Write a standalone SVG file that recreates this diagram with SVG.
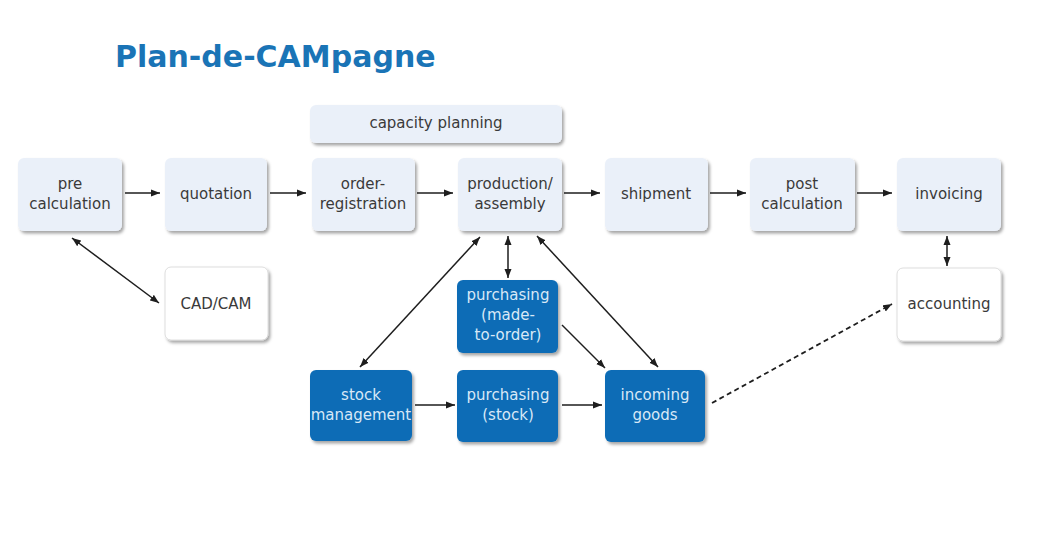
<svg xmlns="http://www.w3.org/2000/svg" width="1045" height="539" viewBox="0 0 1045 539">
<defs>
<filter id="sh" x="-10%" y="-10%" width="130%" height="130%">
<feDropShadow dx="2" dy="2.5" stdDeviation="1.6" flood-color="#000" flood-opacity="0.35"/>
</filter>
<marker id="ah" markerUnits="userSpaceOnUse" markerWidth="10" markerHeight="8" refX="9" refY="4" orient="auto-start-reverse">
<path d="M0,0.5 L9,4 L0,7.5 z" fill="#1e1e1e"/>
</marker>
</defs>
<style>
.light rect{fill:#eaf0f9;filter:url(#sh)}
.white rect{fill:#ffffff;stroke:#d6d6d6;stroke-width:0.8;filter:url(#sh)}
.dark rect{fill:#0b6cb6;filter:url(#sh)}
text{font-family:"DejaVu Sans","Verdana",sans-serif;font-size:15px;text-anchor:middle}
.light text,.white text{fill:#3a3a3a}
.dark text{fill:#d8e8f7}
.title{font-family:"DejaVu Sans",sans-serif;font-size:30px;font-weight:bold;fill:#1a74b6;text-anchor:start}
#connectors line{stroke:#1e1e1e;stroke-width:1.5;fill:none}
#connectors .one{marker-end:url(#ah)}
#connectors .two{marker-start:url(#ah);marker-end:url(#ah)}
#connectors .dash{stroke-dasharray:5,3.5;stroke-width:1.8}
</style>
<rect width="1045" height="539" fill="#ffffff"/>
<text class="title" x="115" y="67">Plan-de-CAMpagne</text>

<g id="connectors">
<line class="one" x1="125" y1="193" x2="160" y2="193"/>
<line class="one" x1="270" y1="193" x2="306" y2="193"/>
<line class="one" x1="417" y1="193" x2="453" y2="193"/>
<line class="one" x1="564" y1="193" x2="600" y2="193"/>
<line class="one" x1="710" y1="193" x2="746" y2="193"/>
<line class="one" x1="857" y1="193" x2="892" y2="193"/>
<line class="two" x1="947" y1="236" x2="947" y2="266"/>
<line class="two" x1="72" y1="238" x2="159" y2="303"/>
<line class="two" x1="480" y1="237" x2="360" y2="367"/>
<line class="two" x1="508" y1="236" x2="508" y2="278"/>
<line class="two" x1="537" y1="236" x2="658" y2="367"/>
<line class="one" x1="562" y1="325" x2="605" y2="368"/>
<line class="one" x1="415" y1="405" x2="455" y2="405"/>
<line class="one" x1="562" y1="405" x2="602" y2="405"/>
<line class="one dash" x1="712" y1="403" x2="892" y2="304"/>
</g>

<g id="capacity-planning" class="light">
<rect x="310" y="105" width="252" height="38" rx="6"/>
<text x="436" y="128">capacity planning</text>
</g>
<g id="pre-calculation" class="light">
<rect x="18" y="158" width="104" height="73" rx="6"/>
<text x="70" y="189">pre</text>
<text x="70" y="209">calculation</text>
</g>
<g id="quotation" class="light">
<rect x="165" y="158" width="102" height="73" rx="6"/>
<text x="216" y="199">quotation</text>
</g>
<g id="order-registration" class="light">
<rect x="312" y="158" width="103" height="73" rx="6"/>
<text x="363" y="189">order-</text>
<text x="363" y="209">registration</text>
</g>
<g id="production-assembly" class="light">
<rect x="458" y="158" width="104" height="73" rx="6"/>
<text x="510" y="189">production/</text>
<text x="510" y="209">assembly</text>
</g>
<g id="shipment" class="light">
<rect x="605" y="158" width="103" height="73" rx="6"/>
<text x="656" y="199">shipment</text>
</g>
<g id="post-calculation" class="light">
<rect x="750" y="158" width="105" height="73" rx="6"/>
<text x="802" y="189">post</text>
<text x="802" y="209">calculation</text>
</g>
<g id="invoicing" class="light">
<rect x="897" y="158" width="104" height="73" rx="6"/>
<text x="949" y="199">invoicing</text>
</g>
<g id="cad-cam" class="white">
<rect x="165" y="267" width="103" height="73" rx="6"/>
<text x="216" y="309">CAD/CAM</text>
</g>
<g id="accounting" class="white">
<rect x="897" y="268" width="104" height="73" rx="6"/>
<text x="949" y="309">accounting</text>
</g>
<g id="purchasing-made-to-order" class="dark">
<rect x="457" y="280" width="101" height="73" rx="6"/>
<text x="508" y="300">purchasing</text>
<text x="508" y="320">(made-</text>
<text x="508" y="340">to-order)</text>
</g>
<g id="stock-management" class="dark">
<rect x="310" y="370" width="102" height="71" rx="6"/>
<text x="361" y="400">stock</text>
<text x="361" y="420">management</text>
</g>
<g id="purchasing-stock" class="dark">
<rect x="457" y="370" width="101" height="72" rx="6"/>
<text x="508" y="400">purchasing</text>
<text x="508" y="420">(stock)</text>
</g>
<g id="incoming-goods" class="dark">
<rect x="605" y="370" width="100" height="72" rx="6"/>
<text x="655" y="400">incoming</text>
<text x="655" y="420">goods</text>
</g>
</svg>
